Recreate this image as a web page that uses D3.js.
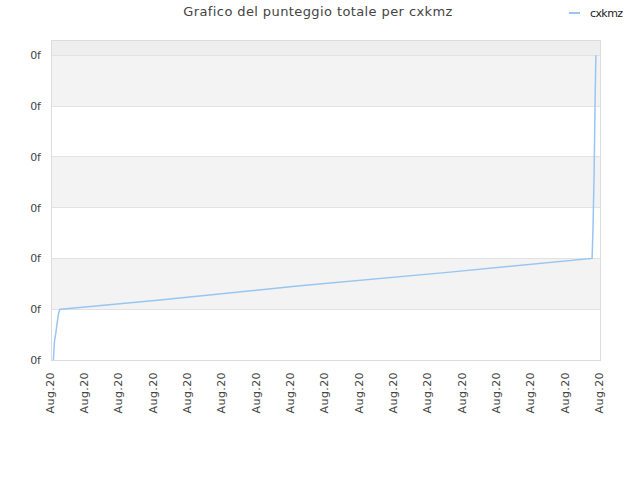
<!DOCTYPE html>
<html>
<head>
<meta charset="utf-8">
<script src="https://cdn.jsdelivr.net/npm/d3@7"></script>
<style>
  body { margin: 0; background: #fff; }
  svg { display: block; font-family: "DejaVu Sans", sans-serif; }
</style>
</head>
<body>
<svg id="chart" width="640" height="480"></svg>
<script>
// data: x in tick steps (17 ticks, all "Aug.20"), y in gridline steps (all "0f")
const xTickLabels = ["Aug.20", "Aug.20", "Aug.20", "Aug.20", "Aug.20", "Aug.20", "Aug.20", "Aug.20", "Aug.20",
                     "Aug.20", "Aug.20", "Aug.20", "Aug.20", "Aug.20", "Aug.20", "Aug.20", "Aug.20"];
const yTickLabels = ["0f", "0f", "0f", "0f", "0f", "0f", "0f"];
const seriesName = "cxkmz";
const timeSteps = [0.07, 0.10, 0.14, 0.18, 0.22, 0.26, 0.45, 3.18, 7.26, 11.63, 15.77, 15.78, 15.80, 15.83, 15.86, 15.88];
const scores    = [0.00, 0.36, 0.53, 0.73, 0.92, 1.00, 1.01, 1.18, 1.46, 1.73, 2.00, 2.23, 2.71, 3.74, 5.25, 6.00];

const svg = d3.select("#chart");
const margens = { left: 51, right: 40, top: 40, bottom: 120 };
const width = 640, height = 480;
const innerWidth = width - margens.left - margens.right;
const innerHeight = height - margens.top - margens.bottom;

const x = d3.scaleLinear()
    .domain([0, xTickLabels.length - 1])
    .range([0, innerWidth]);

const y = d3.scaleLinear()
    .domain([0, 6.3])
    .range([innerHeight, 0]);

const mainGroup = svg.append("g")
    .attr("transform", `translate(${margens.left}, ${margens.top})`);

// top strip above the last gridline
mainGroup.append("rect")
    .attr("x", 0).attr("y", 0)
    .attr("width", innerWidth)
    .attr("height", y(6))
    .attr("fill", "#eeeeee");

// alternating bands
const bands = d3.range(0, yTickLabels.length - 1);
mainGroup.selectAll(".band")
    .data(bands)
    .join("rect")
    .attr("class", "band")
    .attr("x", 0)
    .attr("y", d => y(d + 1))
    .attr("width", innerWidth)
    .attr("height", d => y(d) - y(d + 1))
    .attr("fill", d => d % 2 === 1 ? "#f3f3f3" : "#ffffff");

// horizontal gridlines
mainGroup.selectAll(".grid")
    .data(d3.range(0, yTickLabels.length))
    .join("line")
    .attr("class", "grid")
    .attr("x1", 0).attr("x2", innerWidth)
    .attr("y1", d => y(d)).attr("y2", d => y(d))
    .attr("stroke", "#e2e2e2")
    .attr("stroke-width", 1)
    .attr("shape-rendering", "crispEdges");

// frame
mainGroup.append("rect")
    .attr("x", 0).attr("y", 0)
    .attr("width", innerWidth).attr("height", innerHeight)
    .attr("fill", "none")
    .attr("stroke", "#dcdcdc")
    .attr("shape-rendering", "crispEdges");

// the score line
const points = timeSteps.map((t, i) => ({ t, v: scores[i] }));
const line = d3.line()
    .x(d => x(d.t))
    .y(d => y(d.v));

mainGroup.append("path")
    .datum(points)
    .attr("fill", "none")
    .attr("stroke", "#99c5f2")
    .attr("stroke-width", 1.5)
    .attr("d", line);

// y axis labels
svg.append("g")
    .attr("transform", `translate(${margens.left}, ${margens.top})`)
    .call(d3.axisLeft(y).tickValues(d3.range(0, yTickLabels.length)).tickSize(0).tickPadding(10)
        .tickFormat((d, i) => yTickLabels[i]))
    .call(g => g.select(".domain").remove())
    .call(g => g.selectAll("text")
        .attr("fill", "#444")
        .attr("font-size", "11px")
        .attr("font-family", "DejaVu Sans, sans-serif"));

// x axis labels (rotated)
svg.append("g")
    .attr("transform", `translate(${margens.left}, ${height - margens.bottom})`)
    .call(d3.axisBottom(x).tickValues(d3.range(0, xTickLabels.length)).tickSize(0)
        .tickFormat((d, i) => xTickLabels[i]))
    .call(g => g.select(".domain").remove())
    .call(g => g.selectAll("text")
        .attr("fill", "#444")
        .attr("font-size", "11px")
        .attr("letter-spacing", "0.4px")
        .attr("font-family", "DejaVu Sans, sans-serif")
        .attr("text-anchor", "end")
        .attr("dy", "0.3em")
        .attr("transform", "translate(-1, 12) rotate(-90)")
        .attr("x", 0)
        .attr("y", 0));

// title
svg.append("text")
    .attr("x", 318)
    .attr("y", 16)
    .attr("text-anchor", "middle")
    .attr("fill", "#444")
    .attr("font-size", "13px")
    .attr("letter-spacing", "0.4px")
    .text("Grafico del punteggio totale per " + seriesName);

// legend
const legend = svg.append("g")
    .attr("transform", "translate(569, 13)");

legend.append("line")
    .attr("x1", 0).attr("x2", 11)
    .attr("y1", 0).attr("y2", 0)
    .attr("stroke", "#99c5f2")
    .attr("stroke-width", 2);

legend.append("text")
    .attr("x", 21)
    .attr("y", 4)
    .attr("fill", "#222")
    .attr("font-size", "11px")
    .attr("letter-spacing", "-0.6px")
    .text(seriesName);
</script>
</body>
</html>
